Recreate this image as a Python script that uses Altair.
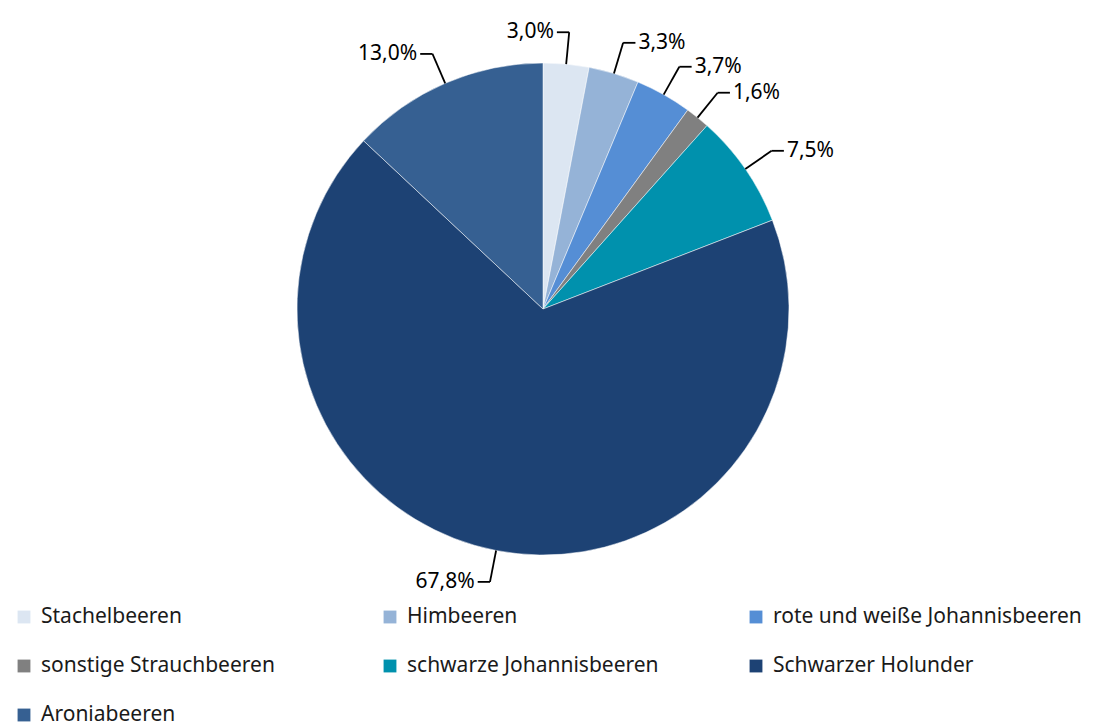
import altair as alt
import pandas as pd

categories = ["Stachelbeeren", "Himbeeren", "rote und weiße Johannisbeeren",
              "sonstige Strauchbeeren", "schwarze Johannisbeeren",
              "Schwarzer Holunder", "Aroniabeeren"]
values = [3.0, 3.3, 3.7, 1.6, 7.5, 67.8, 13.0]
colors = ["#dce6f2", "#95b3d7", "#558ed5", "#808080", "#0091ad", "#1d4274", "#366092"]

df = pd.DataFrame({"idx": list(range(len(categories))), "category": categories, "value": values})

FONT = "Noto Sans"
W, H = 1082, 590
R = 246          # pie radius in px
CX, CY = 535, 301  # pie centre in view px

xs = alt.Scale(domain=[-CX / R, (W - CX) / R])
ys = alt.Scale(domain=[-(H - CY) / R, CY / R])
col_scale = alt.Scale(domain=categories, range=colors)

base = (
    alt.Chart(df)
    .transform_window(cum="sum(value)", sort=[{"field": "idx"}], frame=[None, 0])
    .transform_joinaggregate(total="sum(value)")
    .transform_calculate(
        mid="(datum.cum - datum.value/2) / datum.total * 2 * PI",
        ex="sin(datum.mid)",
        ey="cos(datum.mid)",
        bx="1.13 * sin(datum.mid)",
        by="1.13 * cos(datum.mid)",
        side="sin(datum.mid) >= 0.15 ? 1 : -1",
        hx="datum.bx + datum.side * 0.05",
        label="replace(format(datum.value, '.1f'), '.', ',') + '%'",
    )
)

arc = base.mark_arc(outerRadius=R, stroke="white", strokeWidth=0.5).encode(
    x=alt.X(datum=0, type="quantitative", scale=xs, axis=None),
    y=alt.Y(datum=0, type="quantitative", scale=ys, axis=None),
    theta=alt.Theta("value:Q", stack=True),
    order=alt.Order("idx:Q"),
    color=alt.Color("category:N", scale=col_scale, legend=None),
)

seg1 = base.mark_rule(color="black", strokeWidth=1.8).encode(
    x=alt.X("ex:Q", scale=xs, axis=None), y=alt.Y("ey:Q", scale=ys, axis=None),
    x2="bx:Q", y2="by:Q",
)
seg2 = base.mark_rule(color="black", strokeWidth=1.8).encode(
    x=alt.X("bx:Q", scale=xs, axis=None), y=alt.Y("by:Q", scale=ys, axis=None),
    x2="hx:Q", y2="by:Q",
)
txt_r = base.transform_filter("datum.side > 0").mark_text(
    align="left", baseline="middle", dx=3, fontSize=21, font=FONT, color="black"
).encode(
    x=alt.X("hx:Q", scale=xs, axis=None), y=alt.Y("by:Q", scale=ys, axis=None), text="label:N"
)
txt_l = base.transform_filter("datum.side < 0").mark_text(
    align="right", baseline="middle", dx=-3, fontSize=21, font=FONT, color="black"
).encode(
    x=alt.X("hx:Q", scale=xs, axis=None), y=alt.Y("by:Q", scale=ys, axis=None), text="label:N"
)

pie = alt.layer(arc, seg1, seg2, txt_r, txt_l).properties(width=W, height=H)

LH = 128
lx = alt.Scale(domain=[-16 / 366, (W - 16) / 366])
ly = alt.Scale(domain=[-19 / 49, (LH - 19) / 49], reverse=True)
lbase = alt.Chart(df).transform_calculate(col="datum.idx % 3", row="floor(datum.idx / 3)")
sq = lbase.mark_square(size=165, opacity=1).encode(
    x=alt.X("col:Q", scale=lx, axis=None), y=alt.Y("row:Q", scale=ly, axis=None),
    color=alt.Color("category:N", scale=col_scale, legend=None),
)
lt = lbase.mark_text(align="left", baseline="middle", dx=17, fontSize=21, font=FONT, color="#1a1a1a").encode(
    x=alt.X("col:Q", scale=lx, axis=None), y=alt.Y("row:Q", scale=ly, axis=None),
    text="category:N",
)
legend = alt.layer(sq, lt).properties(width=W, height=LH)

chart = alt.vconcat(pie, legend, spacing=0).properties(padding=0).configure_view(stroke=None)

chart.save("out.html", embed_options={"renderer": "svg", "actions": False})
